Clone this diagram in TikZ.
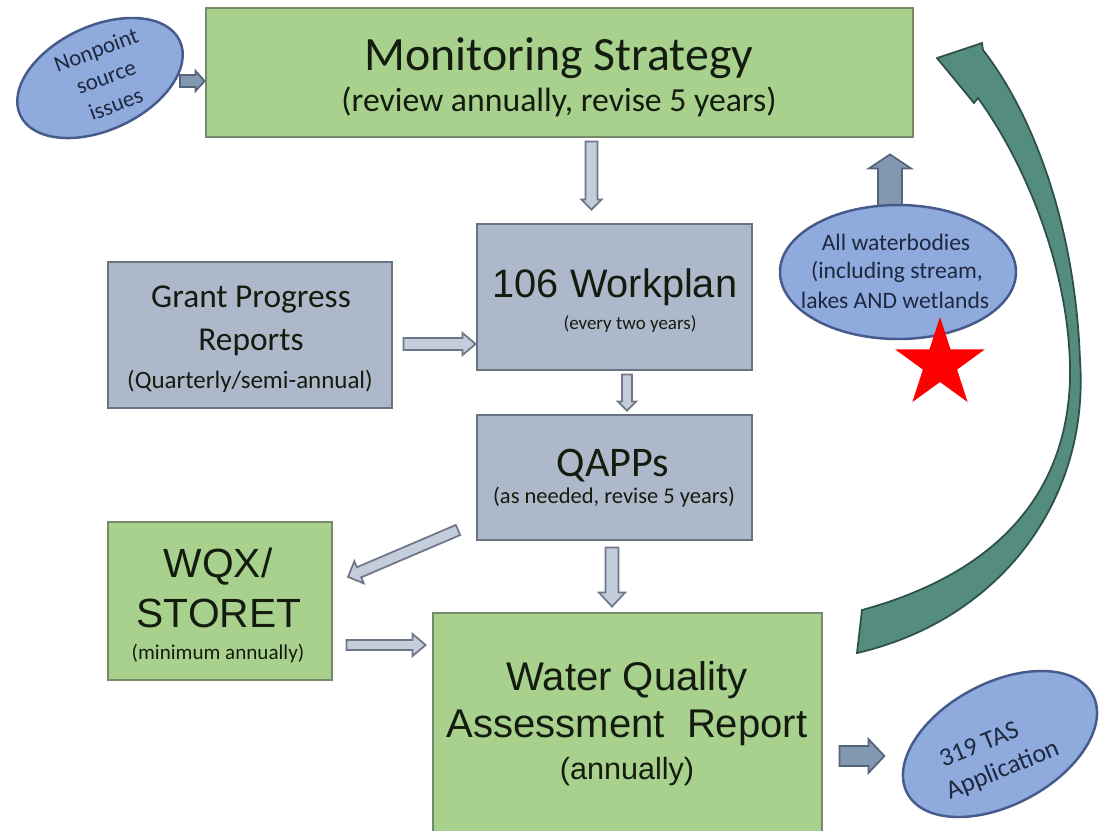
\documentclass[tikz,border=0pt]{standalone}
\usepackage{fontspec}
\setmainfont{Carlito}
\newfontfamily\arialfont{Liberation Sans}
\usetikzlibrary{calc,shapes.geometric}

\definecolor{boxgreen}{RGB}{169,209,142}
\definecolor{boxgreenline}{RGB}{120,138,108}
\definecolor{boxgrey}{RGB}{173,185,202}
\definecolor{boxgreyline}{RGB}{105,114,128}
\definecolor{blobfill}{RGB}{143,170,220}
\definecolor{blobline}{RGB}{70,90,140}
\definecolor{arrfill}{RGB}{196,205,220}
\definecolor{arrline}{RGB}{110,118,135}
\definecolor{darkarrfill}{RGB}{132,151,176}
\definecolor{darkarrline}{RGB}{85,100,125}
\definecolor{loopfill}{RGB}{84,141,128}
\definecolor{loopline}{RGB}{45,80,72}
\definecolor{textdark}{RGB}{20,28,15}
\definecolor{blobtext}{RGB}{30,40,65}

\tikzset{
  greenbox/.style={rectangle, draw=boxgreenline, fill=boxgreen, line width=0.8pt, inner sep=0pt},
  greybox/.style={rectangle, draw=boxgreyline, fill=boxgrey, line width=0.8pt, inner sep=0pt},
  blob/.style={ellipse, draw=blobline, fill=blobfill, line width=0.7pt, inner sep=0pt},
  lightarrow/.style={draw=arrline, fill=arrfill, line width=0.5pt},
  darkarrow/.style={draw=darkarrline, fill=darkarrfill, line width=0.5pt},
  loopback/.style={draw=loopline, fill=loopfill, line width=0.5pt},
  txt/.style={text=textdark, inner sep=0pt, anchor=center},
  blobtxt/.style={text=blobtext, inner sep=0pt, anchor=center},
}

% block arrow: [style]{from}{to}{shaft half width}{head half width}{head length}
\newcommand{\blockarrow}[6][]{%
  \draw[#1] let \p1=($(#3)-(#2)$), \n1={atan2(\y1,\x1)}, \n2={veclen(\x1,\y1)} in
    {[shift={(#2)},rotate=\n1]
      (0pt,-#4) -- (\n2-#6,-#4) -- (\n2-#6,-#5) -- (\n2,0pt)
      -- (\n2-#6,#5) -- (\n2-#6,#4) -- (0pt,#4) -- cycle};}

\begin{document}
\begin{tikzpicture}
\useasboundingbox (0,0) rectangle (11.07,-8.30);

% boxes
\node[greenbox, minimum width=7.07cm, minimum height=1.29cm] (ms) at (5.595,-0.725) {};
\node[greybox, minimum width=2.75cm, minimum height=1.46cm] (wp) at (6.145,-2.97) {};
\node[greybox, minimum width=2.84cm, minimum height=1.46cm] (gp) at (2.50,-3.35) {};
\node[greybox, minimum width=2.75cm, minimum height=1.25cm] (qa) at (6.145,-4.775) {};
\node[greenbox, minimum width=2.24cm, minimum height=1.58cm] (wq) at (2.20,-6.01) {};
\node[greenbox, minimum width=3.89cm, minimum height=2.30cm] (wr) at (6.275,-7.28) {};

% arrow ends
\coordinate (np-out) at (1.80,-0.81);
\coordinate (ms-in) at (ms.west |- np-out);
\coordinate (ms-out) at ($(ms.south)+(0.32,-0.03)$);
\coordinate (wp-top) at ($(ms-out |- wp.north)+(0,0.13)$);
\coordinate (gp-out) at ($(gp.east)+(0.10,-0.09)$);
\coordinate (wp-in) at (wp.west |- gp-out);
\coordinate (wp-out) at ($(wp.south)+(0.125,-0.03)$);
\coordinate (qa-top) at ($(wp-out |- qa.north)+(0,0.03)$);
\coordinate (qa-out) at (4.58,-5.30);
\coordinate (wq-in) at (3.48,-5.77);
\coordinate (qa-down) at ($(qa.south)+(-0.025,-0.06)$);
\coordinate (wr-top) at ($(qa-down |- wr.north)+(0,0.05)$);
\coordinate (wq-out) at ($(wq.east)+(0.13,-0.44)$);
\coordinate (wr-in) at ($(wr.west |- wq-out)+(-0.06,0)$);
\coordinate (aw-out) at (8.90,-2.12);
\coordinate (ms-low) at ($(aw-out |- ms.south)+(0,-0.16)$);
\coordinate (wr-out) at ($(wr.east)+(0.16,-0.28)$);
\coordinate (tas-in) at ($(wr-out)+(0.45,0)$);

\blockarrow[darkarrow]{np-out}{ms-in}{0.06cm}{0.10cm}{0.09cm}
\blockarrow[lightarrow]{ms-out}{wp-top}{0.06cm}{0.10cm}{0.10cm}
\blockarrow[lightarrow]{gp-out}{wp-in}{0.06cm}{0.11cm}{0.13cm}
\blockarrow[lightarrow]{wp-out}{qa-top}{0.05cm}{0.09cm}{0.09cm}
\blockarrow[lightarrow]{qa-out}{wq-in}{0.055cm}{0.12cm}{0.12cm}
\blockarrow[lightarrow]{qa-down}{wr-top}{0.065cm}{0.13cm}{0.14cm}
\blockarrow[lightarrow]{wq-out}{wr-in}{0.05cm}{0.11cm}{0.13cm}
\blockarrow[darkarrow]{aw-out}{ms-low}{0.12cm}{0.21cm}{0.14cm}
\blockarrow[darkarrow]{wr-out}{tas-in}{0.10cm}{0.17cm}{0.16cm}

% ellipses
\node[blob, minimum width=1.76cm, minimum height=1.04cm, rotate=25] (np) at (1.00,-0.78) {};
\node[blob, minimum width=2.36cm, minimum height=1.34cm] (aw) at (8.98,-2.72) {};
\node[blob, minimum width=2.10cm, minimum height=1.22cm, rotate=28] (tas) at (10.00,-7.44) {};

% loop back to the strategy
\filldraw[loopback] (8.57,-6.53) .. controls (10.00,-6.20) and (10.90,-5.00) .. (10.80,-3.60)
  .. controls (10.75,-2.20) and (10.30,-1.10) .. (9.83,-0.50)
  -- (9.82,-0.43) -- (9.37,-0.58) -- (9.74,-1.03) -- (9.78,-0.98)
  .. controls (10.30,-1.70) and (10.72,-2.80) .. (10.70,-3.80)
  .. controls (10.66,-5.00) and (9.90,-5.75) .. (8.62,-6.10) -- cycle;

% star
\fill[red,shift={(9.40,-3.64)}] (90:0.47) \foreach \k in {0,...,4} {-- (126+72*\k:0.18) -- (162+72*\k:0.47)} -- cycle;

% texts
\node[txt, font=\fontsize{13.6}{16}\selectfont] at (5.59,-0.58) {Monitoring Strategy};
\node[txt, font=\fontsize{9.6}{11}\selectfont] at (5.59,-1.02) {(review annually, revise 5 years)};

\node[txt, font=\arialfont\fontsize{11.3}{13}\selectfont] at (6.15,-2.87) {106 Workplan};
\node[txt, font=\fontsize{5.4}{6}\selectfont] at (6.30,-3.24) {(every two years)};

\node[txt, font=\fontsize{9.5}{11}\selectfont] at (2.51,-3.00) {Grant Progress};
\node[txt, font=\fontsize{9.5}{11}\selectfont] at (2.51,-3.42) {Reports};
\node[txt, font=\fontsize{7.1}{8}\selectfont] at (2.50,-3.81) {(Quarterly/semi-annual)};

\node[txt, font=\fontsize{12}{14}\selectfont] at (6.13,-4.66) {QAPPs};
\node[txt, font=\fontsize{6.4}{7}\selectfont] at (6.14,-4.97) {(as needed, revise 5 years)};

\node[txt, font=\arialfont\fontsize{11.6}{13}\selectfont] at (2.18,-5.67) {WQX/};
\node[txt, font=\arialfont\fontsize{11.6}{13}\selectfont] at (2.19,-6.13) {STORET};
\node[txt, font=\fontsize{6.0}{7}\selectfont] at (2.18,-6.53) {(minimum annually)};

\node[txt, font=\arialfont\fontsize{11.4}{13}\selectfont] at (6.27,-6.80) {Water Quality};
\node[txt, font=\arialfont\fontsize{11.4}{13}\selectfont] at (6.27,-7.28) {Assessment\ \ Report};
\node[txt, font=\arialfont\fontsize{8.7}{10}\selectfont] at (6.27,-7.72) {(annually)};

\node[blobtxt, font=\fontsize{6.7}{8}\selectfont] at (8.96,-2.42) {All waterbodies};
\node[blobtxt, font=\fontsize{6.7}{8}\selectfont] at (8.97,-2.72) {(including stream,};
\node[blobtxt, font=\fontsize{6.7}{8}\selectfont] at (8.95,-3.00) {lakes AND wetlands};

\node[blobtxt, font=\fontsize{6.5}{8.2}\selectfont, align=center, rotate=20] at (1.06,-0.77) {Nonpoint\\source\\issues};
\node[blobtxt, font=\fontsize{7.4}{9.2}\selectfont, align=left, rotate=22] at (9.97,-7.56) {\ 319 TAS\\Application};

\end{tikzpicture}
\end{document}
